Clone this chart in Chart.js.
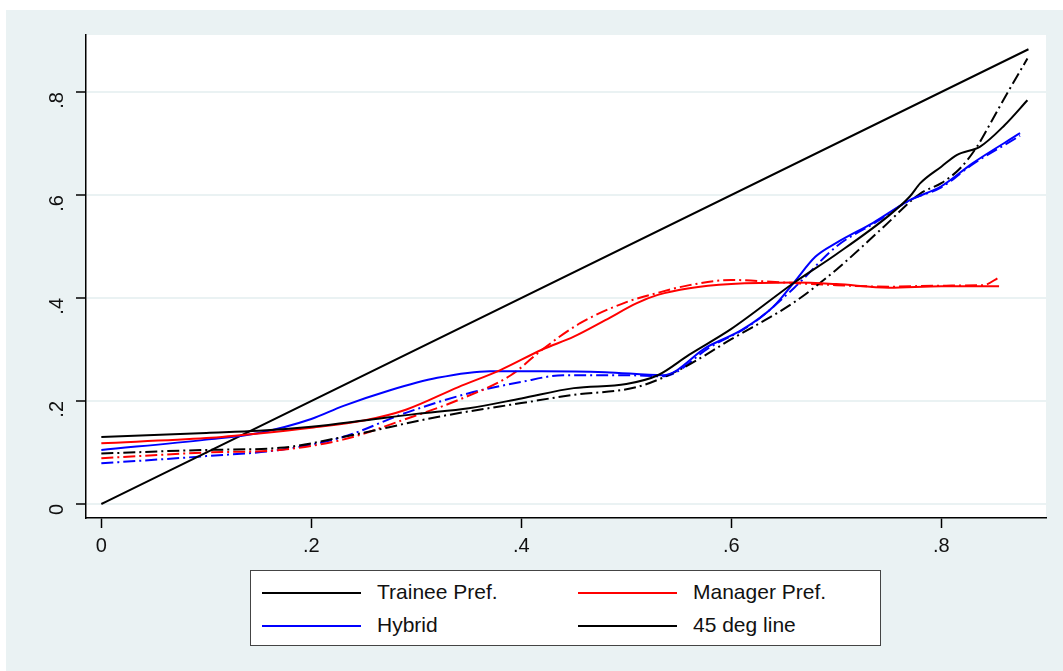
<!DOCTYPE html>
<html>
<head>
<meta charset="utf-8">
<script src="https://cdn.jsdelivr.net/npm/chart.js@4.4.1/dist/chart.umd.min.js"></script>
<style>
  html, body { margin: 0; padding: 0; background: #fff; }
  #wrap { position: relative; width: 1063px; height: 671px; }
  #bg { position: absolute; left: 6px; top: 10px; right: 0; bottom: 0; background: #eaf2f3; }
  #myChart { position: absolute; left: 0; top: 0; }
  #legend { position: absolute; left: 250px; top: 570px; width: 629px; height: 74px; background: #fff;
            border: 1px solid #444; font-family: "Liberation Sans", Arial, sans-serif; font-size: 21px; color: #111; }
  .item { position: absolute; height: 24px; width: 300px; }
  .item .ln { position: absolute; left: 0; top: 11px; width: 99px; height: 2px; }
  .item .tx { position: absolute; left: 115px; top: -1px; line-height: 24px; white-space: nowrap; }
</style>
</head>
<body>
<div id="wrap">
  <div id="bg"></div>
  <canvas id="myChart" width="1063" height="671"></canvas>
  <div id="legend"></div>
</div>
<script>
// 軸の目盛り
const xTicks = [0, 0.2, 0.4, 0.6, 0.8];
const xTickLabels = ['0', '.2', '.4', '.6', '.8'];
const yTicks = [0, 0.2, 0.4, 0.6, 0.8];
const yTickLabels = ['0', '.2', '.4', '.6', '.8'];

// 凡例のラベル
const legendLabels = ['Trainee Pref.', 'Manager Pref.', 'Hybrid', '45 deg line'];

// Trainee Pref. (実線)
const traineeX = [0, 0.1, 0.15, 0.2, 0.25, 0.3, 0.35, 0.4, 0.45, 0.5, 0.53, 0.56, 0.6, 0.66, 0.7, 0.75, 0.77, 0.78, 0.8, 0.815, 0.837, 0.86, 0.882];
const traineeY = [0.13, 0.138, 0.142, 0.15, 0.162, 0.175, 0.186, 0.205, 0.225, 0.233, 0.25, 0.29, 0.34, 0.43, 0.485, 0.56, 0.597, 0.623, 0.655, 0.678, 0.694, 0.735, 0.784];

// Manager Pref. (実線)
const managerX = [0, 0.1, 0.15, 0.2, 0.25, 0.29, 0.34, 0.38, 0.42, 0.45, 0.48, 0.51, 0.53, 0.56, 0.6, 0.66, 0.7, 0.75, 0.8, 0.855];
const managerY = [0.118, 0.128, 0.137, 0.148, 0.162, 0.183, 0.227, 0.26, 0.3, 0.325, 0.357, 0.39, 0.406, 0.419, 0.427, 0.43, 0.427, 0.42, 0.423, 0.423];

// Hybrid (実線)
const hybridX = [0, 0.1, 0.15, 0.2, 0.23, 0.275, 0.32, 0.37, 0.42, 0.48, 0.535, 0.577, 0.61, 0.64, 0.66, 0.68, 0.7, 0.735, 0.77, 0.8, 0.83, 0.875];
const hybridY = [0.105, 0.125, 0.138, 0.165, 0.19, 0.221, 0.245, 0.258, 0.258, 0.256, 0.25, 0.305, 0.338, 0.383, 0.431, 0.48, 0.507, 0.546, 0.59, 0.617, 0.662, 0.72];

// 点線のほう
const traineeDashX = [0, 0.1, 0.17, 0.23, 0.32, 0.4, 0.45, 0.51, 0.55, 0.6, 0.66, 0.7, 0.745, 0.78, 0.8, 0.818, 0.834, 0.847, 0.859, 0.882];
const traineeDashY = [0.098, 0.105, 0.109, 0.13, 0.169, 0.196, 0.212, 0.227, 0.26, 0.32, 0.392, 0.455, 0.538, 0.603, 0.623, 0.652, 0.694, 0.74, 0.784, 0.865];

const managerDashX = [0, 0.1, 0.17, 0.23, 0.29, 0.34, 0.39, 0.42, 0.456, 0.5, 0.53, 0.56, 0.6, 0.65, 0.7, 0.75, 0.8, 0.84, 0.855];
const managerDashY = [0.089, 0.1, 0.105, 0.125, 0.165, 0.202, 0.25, 0.3, 0.351, 0.392, 0.41, 0.425, 0.435, 0.43, 0.425, 0.422, 0.424, 0.425, 0.44];

const hybridDashX = [0, 0.1, 0.17, 0.23, 0.29, 0.35, 0.4, 0.44, 0.5, 0.535, 0.58, 0.62, 0.66, 0.7, 0.74, 0.77, 0.8, 0.83, 0.875];
const hybridDashY = [0.079, 0.093, 0.105, 0.13, 0.177, 0.215, 0.237, 0.25, 0.25, 0.248, 0.305, 0.35, 0.42, 0.5, 0.55, 0.59, 0.615, 0.66, 0.715];

// 45度線
const diagX = [0, 0.883];
const diagY = [0, 0.883];

function pts(xs, ys) {
  return xs.map((x, i) => ({ x: x, y: ys[i] }));
}

const dashDot = [12, 4, 2, 4];

const datasets = [
  { label: legendLabels[0], data: pts(traineeX, traineeY), borderColor: '#000', legend: true },
  { label: legendLabels[1], data: pts(managerX, managerY), borderColor: '#ff0000', legend: true },
  { label: legendLabels[2], data: pts(hybridX, hybridY), borderColor: '#0000ff', legend: true },
  { label: legendLabels[3], data: pts(diagX, diagY), borderColor: '#000', legend: true },
  { label: 'trainee dash', data: pts(traineeDashX, traineeDashY), borderColor: '#000', borderDash: dashDot },
  { label: 'manager dash', data: pts(managerDashX, managerDashY), borderColor: '#ff0000', borderDash: dashDot },
  { label: 'hybrid dash', data: pts(hybridDashX, hybridDashY), borderColor: '#0000ff', borderDash: dashDot }
];
datasets.forEach(function(d) {
  d.borderWidth = 2;
  d.pointRadius = 0;
  d.fill = false;
  d.cubicInterpolationMode = 'monotone';
});

// プロット領域を白く塗る
const plotBg = {
  id: 'plotBg',
  beforeDraw(chart) {
    const a = chart.chartArea;
    const ctx = chart.ctx;
    ctx.save();
    ctx.fillStyle = '#fff';
    ctx.fillRect(a.left, a.top, a.right - a.left, a.bottom - a.top);
    ctx.restore();
  }
};

const tickFont = { family: '"Liberation Sans", Arial, sans-serif', size: 20 };

var ctx = document.getElementById('myChart').getContext('2d');
var myChart = new Chart(ctx, {
  type: 'line',
  data: { datasets: datasets },
  plugins: [plotBg],
  options: {
    responsive: false,
    animation: false,
    layout: { padding: { left: 6, top: 35, right: 17, bottom: 0 } },
    plugins: { legend: { display: false }, tooltip: { enabled: false } },
    scales: {
      x: {
        type: 'linear',
        min: -0.0146,
        max: 0.8997,
        afterBuildTicks: function(s) { s.ticks = xTicks.map(v => ({ value: v })); },
        afterFit: function(s) { s.height = 153; },
        ticks: {
          font: tickFont,
          color: '#111',
          padding: 6,
          maxRotation: 0,
          callback: function(v, i) { return xTickLabels[i]; }
        },
        grid: { drawOnChartArea: false, drawTicks: true, tickLength: 10, tickColor: '#000', tickWidth: 1.5 },
        border: { display: true, color: '#000', width: 1.5 }
      },
      y: {
        type: 'linear',
        min: -0.0272,
        max: 0.9107,
        afterBuildTicks: function(s) { s.ticks = yTicks.map(v => ({ value: v })); },
        afterFit: function(s) { s.width = 80; },
        ticks: {
          font: tickFont,
          color: '#111',
          padding: 19,
          minRotation: 90,
          maxRotation: 90,
          callback: function(v, i) { return yTickLabels[i]; }
        },
        grid: { color: '#eaf2f3', lineWidth: 2, drawTicks: true, tickLength: 10, tickColor: '#000', tickWidth: 1.5 },
        border: { display: true, color: '#000', width: 1.5 }
      }
    }
  }
});

// 凡例 (2列)
const legendEl = document.getElementById('legend');
const legendPos = [[11, 10], [327, 10], [11, 43], [327, 43]];
datasets.filter(d => d.legend).forEach(function(d, i) {
  const item = document.createElement('div');
  item.className = 'item';
  item.style.left = legendPos[i][0] + 'px';
  item.style.top = legendPos[i][1] + 'px';
  const ln = document.createElement('span');
  ln.className = 'ln';
  ln.style.background = d.borderColor;
  const tx = document.createElement('span');
  tx.className = 'tx';
  tx.textContent = d.label;
  item.appendChild(ln);
  item.appendChild(tx);
  legendEl.appendChild(item);
});
</script>
</body>
</html>
